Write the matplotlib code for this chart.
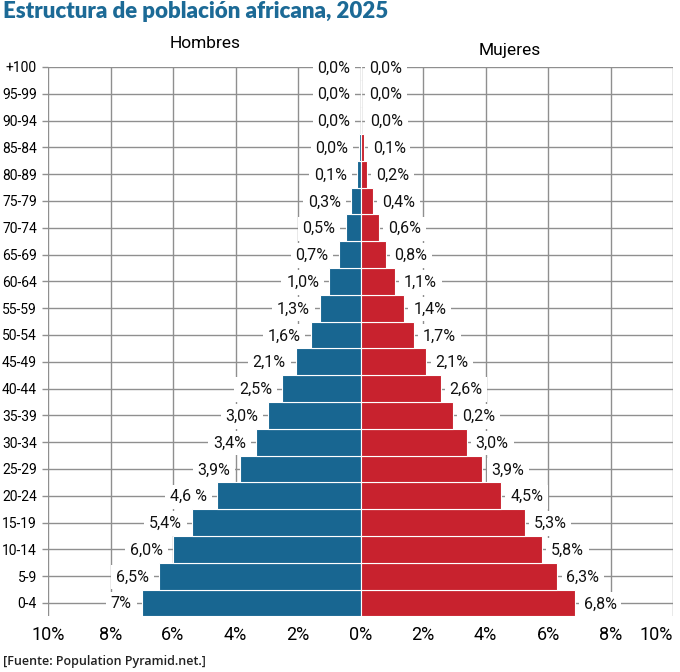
import matplotlib
matplotlib.use('Agg')
import matplotlib.pyplot as plt
import numpy as np

# Data (bottom to top)
ages = ['0-4', '5-9', '10-14', '15-19', '20-24', '25-29', '30-34', '35-39',
        '40-44', '45-49', '50-54', '55-59', '60-64', '65-69', '70-74',
        '75-79', '80-89', '85-84', '90-94', '95-99', '+100']

men = [7.0, 6.45, 6.0, 5.4, 4.6, 3.85, 3.35, 2.95, 2.5, 2.07, 1.6, 1.3,
       1.0, 0.7, 0.48, 0.3, 0.12, 0.06, 0.0, 0.0, 0.0]
women = [6.85, 6.3, 5.8, 5.25, 4.5, 3.9, 3.4, 2.95, 2.56, 2.11, 1.7, 1.4,
         1.1, 0.8, 0.6, 0.4, 0.2, 0.1, 0.02, 0.0, 0.0]

men_labels = ['7%', '6,5%', '6,0%', '5,4%', '4,6 %', '3,9%', '3,4%', '3,0%',
              '2,5%', '2,1%', '1,6%', '1,3%', '1,0%', '0,7%', '0,5%', '0,3%',
              '0,1%', '0,0%', '0,0%', '0,0%', '0,0%']
women_labels = ['6,8%', '6,3%', '5,8%', '5,3%', '4,5%', '3,9%', '3,0%', '0,2%',
                '2,6%', '2,1%', '1,7%', '1,4%', '1,1%', '0,8%', '0,6%', '0,4%',
                '0,2%', '0,1%', '0,0%', '0,0%', '0,0%']

ticks = [-10, -8, -6, -4, -2, 0, 2, 4, 6, 8, 10]

BLUE = '#186691'
RED = '#c8222e'
GRID = '#8f8f8f'
narrow = ['Roboto', 'DejaVu Sans']

fig = plt.figure(figsize=(6.8, 6.72), dpi=100)
ax = fig.add_axes([48/680, 1 - 616.4/672, 625/680, (616.4 - 67)/672])

y = np.arange(len(ages))
ax.barh(y, -np.array(men), height=1.0, color=BLUE, edgecolor='white', linewidth=0.8, zorder=2)
ax.barh(y, women, height=1.0, color=RED, edgecolor='white', linewidth=0.8, zorder=2)

box = dict(facecolor='white', edgecolor='none', pad=3.5)
for i in range(len(ages)):
    ax.annotate(men_labels[i], xy=(-men[i], i), xytext=(-10, -1), textcoords='offset pixels',
                ha='right', va='center', fontsize=11.5, family=narrow, color='#111111',
                bbox=box, zorder=4)
    ax.annotate(women_labels[i], xy=(women[i], i), xytext=(9, -1), textcoords='offset pixels',
                ha='left', va='center', fontsize=11.5, family=narrow, color='#111111',
                bbox=box, zorder=4)

ax.set_xlim(-10, 10)
ax.set_ylim(-0.5, 20)
ax.set_xticks(ticks)
ax.set_xticklabels([f'{abs(t)}%' for t in ticks], family=narrow, fontsize=13)
ax.get_xticklabels()[-1].set_ha('right')
ax.set_yticks(y)
ax.set_yticklabels(ages, family=narrow, fontsize=10)
ax.tick_params(axis='x', length=0, pad=7)
ax.tick_params(axis='y', length=4, width=1, color=GRID, pad=4)
ax.grid(True, color=GRID, linewidth=1)
ax.set_axisbelow(True)
for s in ax.spines.values():
    s.set_visible(False)

fig.text(205/680, 1 - 43/672, 'Hombres', ha='center', va='center', fontsize=12.5, family=narrow)
fig.text(510/680, 1 - 50/672, 'Mujeres', ha='center', va='center', fontsize=12.5, family=narrow)

fig.text(3/680, 1 - 12/672, 'Estructura de población africana, 2025', ha='left', va='center',
         fontsize=16, fontweight='heavy', family=['Lato', 'DejaVu Sans'], color='#1c6a96')
fig.text(3/680, 1 - 662/672, '[Fuente: Population Pyramid.net.]', ha='left', va='center',
         fontsize=9, fontweight='semibold', family=['Open Sans', 'DejaVu Sans'], color='#222222')

fig.savefig('out.png', dpi=100)
